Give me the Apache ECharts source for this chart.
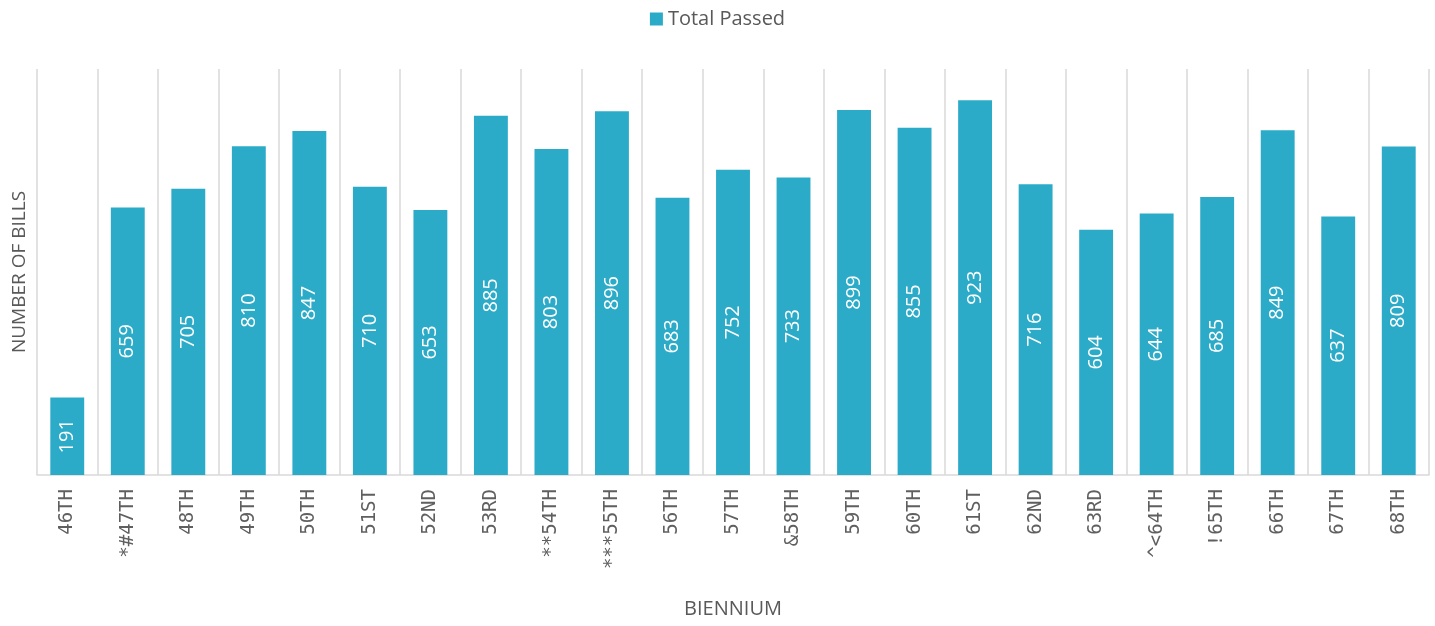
<!DOCTYPE html>
<html>
<head>
<meta charset="utf-8">
<script src="https://cdn.jsdelivr.net/npm/echarts@6/dist/echarts.min.js"></script>
<style>
html,body{margin:0;padding:0;background:#fff;}
#chart{width:1435px;height:626px;}
</style>
</head>
<body>
<div id="chart"></div>
<script>
const categories = ["46TH","*#47TH","48TH","49TH","50TH","51ST","52ND","53RD","**54TH","***55TH","56TH","57TH","&58TH","59TH","60TH","61ST","62ND","63RD","^<64TH","!65TH","66TH","67TH","68TH"];
const totalPassed = [191,659,705,810,847,710,653,885,803,896,683,752,733,899,855,923,716,604,644,685,849,637,809];
const seriesName = "Total Passed";
const xAxisTitle = "BIENNIUM";
const yAxisTitle = "NUMBER OF BILLS";

const FONT = "'Open Sans', sans-serif";
const MONO = "'DejaVu Sans Mono', monospace";
const chart = echarts.init(document.getElementById('chart'), null, {renderer:'canvas'});
chart.setOption({
  animation: false,
  textStyle: {fontFamily: FONT},
  legend: {
    data: [seriesName],
    top: 4,
    left: 'center',
    itemWidth: 13,
    itemHeight: 13,
    icon: 'rect',
    textStyle: {fontSize: 20, color: '#595959', fontFamily: FONT}
  },
  grid: {left: 37, right: 6, top: 69, bottom: 151, containLabel: false},
  xAxis: {
    type: 'category',
    data: categories,
    name: xAxisTitle,
    nameLocation: 'middle',
    nameGap: 124,
    nameTextStyle: {fontSize: 20, color: '#595959', fontFamily: FONT},
    axisLine: {show: true, lineStyle: {color: '#d9d9d9', width: 1.5}},
    axisTick: {show: false},
    axisLabel: {interval: 0, rotate: 90, margin: 14, fontSize: 19, color: '#5f5f5f', fontFamily: MONO},
    splitLine: {show: true, interval: 0, lineStyle: {color: '#d9d9d9', width: 1.5}}
  },
  yAxis: {
    type: 'value',
    min: 0,
    max: 1000,
    name: yAxisTitle,
    nameLocation: 'middle',
    nameGap: 8,
    nameTextStyle: {fontSize: 19, color: '#595959', fontFamily: FONT},
    axisLine: {show: false},
    axisTick: {show: false},
    axisLabel: {show: false},
    splitLine: {show: false}
  },
  series: [{
    name: seriesName,
    type: 'bar',
    data: totalPassed,
    barWidth: '56%',
    itemStyle: {color: '#2babc8'},
    label: {
      show: true,
      position: 'inside',
      rotate: 90,
      color: '#ffffff',
      fontSize: 20,
      fontFamily: FONT
    }
  }]
});
</script>
</body>
</html>
